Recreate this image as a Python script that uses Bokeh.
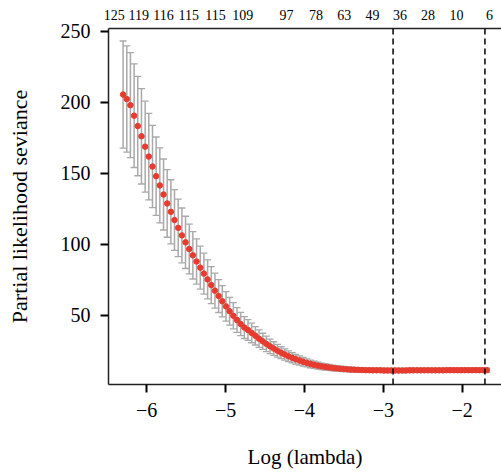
from bokeh.plotting import figure
from bokeh.models import (ColumnDataSource, Whisker, TeeHead, Span, LinearAxis,
                          FixedTicker, Range1d)
from bokeh.embed import file_html
from bokeh.resources import INLINE

# ---- data ----
log_lambda = [
    -6.300, -6.253, -6.207, -6.160, -6.114, -6.067, -6.020, -5.974, -5.927, -5.881,
    -5.834, -5.787, -5.741, -5.694, -5.648, -5.601, -5.554, -5.508, -5.461, -5.415,
    -5.368, -5.321, -5.275, -5.228, -5.182, -5.135, -5.088, -5.042, -4.995, -4.949,
    -4.902, -4.855, -4.809, -4.762, -4.716, -4.669, -4.622, -4.576, -4.529, -4.483,
    -4.436, -4.389, -4.343, -4.296, -4.250, -4.203, -4.156, -4.110, -4.063, -4.017,
    -3.970, -3.923, -3.877, -3.830, -3.784, -3.737, -3.690, -3.644, -3.597, -3.551,
    -3.504, -3.457, -3.411, -3.364, -3.318, -3.271, -3.224, -3.178, -3.131, -3.085,
    -3.038, -2.991, -2.945, -2.898, -2.852, -2.805, -2.758, -2.712, -2.665, -2.619,
    -2.572, -2.525, -2.479, -2.432, -2.386, -2.339, -2.292, -2.246, -2.199, -2.153,
    -2.106, -2.059, -2.013, -1.966, -1.920, -1.873, -1.826, -1.780, -1.733, -1.687,
]
cv_mean = [
    205.4, 202.2, 197.9, 190.5, 183.2, 176.0, 168.7, 161.7, 154.7, 147.9,
    141.4, 135.0, 128.7, 122.8, 117.0, 111.5, 106.2, 101.3, 96.6, 92.2,
    87.8, 83.5, 79.3, 75.2, 71.2, 67.3, 63.5, 59.8, 56.2, 52.8,
    49.6, 46.6, 43.8, 41.3, 39.6, 37.5, 35.5, 33.5, 31.6, 29.8,
    28.1, 26.5, 25.0, 23.6, 22.3, 21.1, 20.0, 19.0, 18.1, 17.2,
    16.4, 15.7, 15.1, 14.5, 14.0, 13.6, 13.2, 12.9, 12.6, 12.3,
    12.1, 11.9, 11.7, 11.6, 11.5, 11.4, 11.3, 11.3, 11.2, 11.2,
    11.2, 11.1, 11.1, 11.1, 11.1, 11.1, 11.1, 11.1, 11.2, 11.2,
    11.2, 11.2, 11.2, 11.2, 11.2, 11.2, 11.2, 11.2, 11.3, 11.3,
    11.3, 11.3, 11.3, 11.3, 11.3, 11.3, 11.3, 11.3, 11.3, 11.3,
]
cv_sd = [
    37.7, 37.4, 37.0, 36.5, 35.0, 33.6, 32.0, 30.5, 29.0, 27.6,
    26.4, 25.0, 23.8, 22.6, 21.4, 20.3, 19.3, 18.4, 17.5, 16.7,
    15.9, 15.1, 14.4, 13.7, 13.0, 12.3, 11.6, 11.0, 10.4, 9.8,
    9.2, 8.7, 8.2, 7.7, 7.3, 6.9, 6.5, 6.1, 5.7, 5.4,
    5.1, 4.8, 4.5, 4.2, 4.0, 3.8, 3.6, 3.4, 3.2, 3.0,
    2.8, 2.7, 2.5, 2.4, 2.3, 2.2, 2.1, 2.0, 1.9, 1.8,
    1.8, 1.7, 1.7, 1.6, 1.6, 1.5, 1.5, 1.5, 1.5, 1.5,
    1.5, 1.5, 1.5, 1.5, 1.5, 1.5, 1.5, 1.5, 1.5, 1.5,
    1.4, 1.4, 1.4, 1.4, 1.4, 1.4, 1.4, 1.4, 1.4, 1.4,
    1.4, 1.4, 1.4, 1.4, 1.4, 1.4, 1.4, 1.4, 1.4, 1.4,
]
lambda_min_log = -2.876
lambda_1se_log = -1.711

nz_positions = [-6.411, -6.100, -5.788, -5.468, -5.127, -4.782, -4.229,
                -3.855, -3.494, -3.138, -2.787, -2.434, -2.072, -1.652]
nz_labels = ["125", "119", "116", "115", "115", "109", "97",
             "78", "63", "49", "36", "28", "10", "6"]

x_ticks = [-6, -5, -4, -3, -2]
x_tick_labels = ["\u22126", "\u22125", "\u22124", "\u22123", "\u22122"]
y_ticks = [50, 100, 150, 200, 250]
x_title = "Log (lambda)"
y_title = "Partial likelihood seviance"

FONT = "Liberation Serif"
# R's default 4% padding around the data range
X_START, X_END = -6.485, -1.501

src = ColumnDataSource(dict(
    x=log_lambda,
    mean=cv_mean,
    upper=[m + s for m, s in zip(cv_mean, cv_sd)],
    lower=[m - s for m, s in zip(cv_mean, cv_sd)],
))

p = figure(width=501, height=472, output_backend="svg", toolbar_location=None,
           x_range=Range1d(X_START, X_END), y_range=Range1d(1.2, 251.9),
           min_border_left=108, min_border_right=-8, min_border_top=28,
           min_border_bottom=88)
p.outline_line_color = None
p.xgrid.grid_line_color = None
p.ygrid.grid_line_color = None
p.background_fill_color = "white"
p.border_fill_color = "white"

# bottom axis
xa = p.xaxis[0]
xa.ticker = FixedTicker(ticks=x_ticks)
xa.major_label_overrides = dict(zip(x_ticks, x_tick_labels))
xa.axis_label = x_title
# left axis
ya = p.yaxis[0]
ya.ticker = FixedTicker(ticks=y_ticks)
ya.axis_label = y_title

for ax in (xa, ya):
    ax.axis_line_color = "#222222"
    ax.axis_line_width = 1.5
    ax.major_tick_line_color = "black"
    ax.major_tick_line_width = 2
    ax.major_tick_out = 8
    ax.major_tick_in = 0
    ax.minor_tick_line_color = None
    ax.major_label_text_font = FONT
    ax.major_label_text_font_size = "20px"
    ax.major_label_text_color = "black"
    ax.major_label_standoff = 10
    ax.axis_label_text_font = FONT
    ax.axis_label_text_font_style = "normal"
    ax.axis_label_text_color = "black"
xa.axis_label_text_font_size = "21px"
ya.axis_label_text_font_size = "22px"
xa.axis_label_standoff = 25
ya.axis_label_standoff = 26

# top axis with number of nonzero coefficients
top = LinearAxis(ticker=FixedTicker(ticks=nz_positions),
                 major_label_overrides=dict(zip(nz_positions, nz_labels)))
top.axis_line_color = "#222222"
top.axis_line_width = 1.5
top.major_tick_line_color = None
top.minor_tick_line_color = None
top.major_tick_out = 0
top.major_tick_in = 0
top.major_label_standoff = 9
top.major_label_text_font = FONT
top.major_label_text_font_size = "14px"
top.major_label_text_color = "black"
p.add_layout(top, "above")

# error bars
head_kw = dict(size=7, line_color="#A9A9A9", line_width=1.3)
w = Whisker(source=src, base="x", upper="upper", lower="lower",
            dimension="height", line_color="#A9A9A9", line_width=1.5,
            upper_head=TeeHead(**head_kw), lower_head=TeeHead(**head_kw),
            level="underlay")
p.add_layout(w)

# mean points
p.scatter("x", "mean", source=src, size=5.5, fill_color="#E63B2E",
          line_color="#E63B2E")

for loc in (lambda_min_log, lambda_1se_log):
    p.add_layout(Span(location=loc, dimension="height", line_color="black",
                      line_width=1.5, line_dash="6 4"))

open("out.html", "w").write(file_html(p, INLINE))
